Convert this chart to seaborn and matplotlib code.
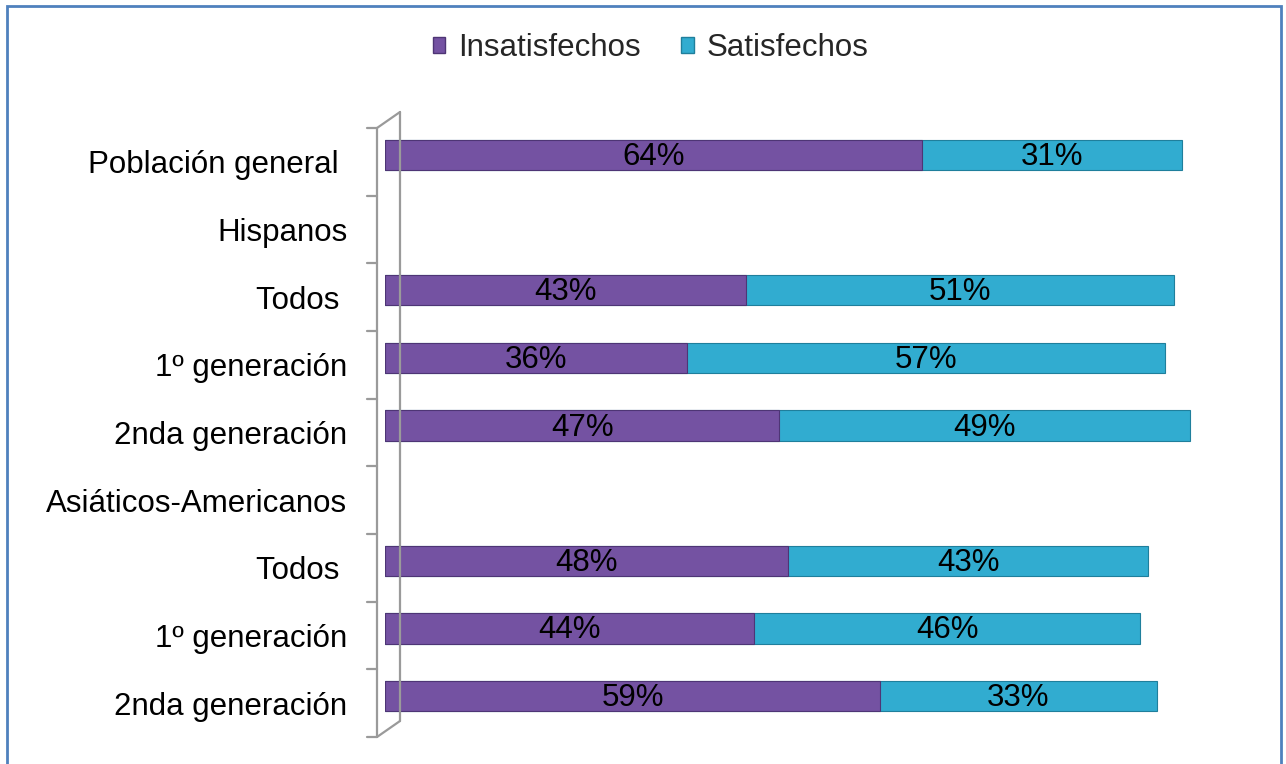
import pandas as pd
import seaborn as sns
import matplotlib.pyplot as plt
from matplotlib.patches import Patch, Rectangle
from matplotlib.lines import Line2D
from matplotlib.transforms import ScaledTranslation

# =================================================================
# 1. Data
# =================================================================
categories = ["Población general ", "Hispanos", "Todos ", "1º generación",
              "2nda generación", "Asiáticos-Americanos", "Todos ",
              "1º generación", "2nda generación"]
row_ids = [f"r{i}" for i in range(len(categories))]
insatisfechos = [64, None, 43, 36, 47, None, 48, 44, 59]
satisfechos = [31, None, 51, 57, 49, None, 43, 46, 33]

PURPLE = "#7452a2"
CYAN = "#31acd0"
FS = 22.5

df = pd.DataFrame({"row": row_ids, "ins": insatisfechos, "sat": satisfechos})
df = df.dropna().copy()
df["total"] = df["ins"] + df["sat"]

# =================================================================
# 2. Plot
# =================================================================
sns.set_theme(style="white")
plt.rcParams["font.family"] = ["Liberation Sans", "DejaVu Sans"]

fig = plt.figure(figsize=(12.86, 7.64), dpi=100)
ax = fig.add_axes([385 / 1286, 27 / 764, 839 / 1286, 609 / 764])

# stacked: total first, then the purple part on top
sns.barplot(data=df, y="row", x="total", order=row_ids, orient="h",
            color=CYAN, saturation=1, width=0.45, edgecolor="#1f7f9c",
            linewidth=0.8, ax=ax)
sns.barplot(data=df, y="row", x="ins", order=row_ids, orient="h",
            color=PURPLE, saturation=1, width=0.45, edgecolor="#4e3575",
            linewidth=0.8, ax=ax)

# bars sit a bit higher than the label slots (3D perspective look)
lift = ax.transData + ScaledTranslation(0, 7 / 100, fig.dpi_scale_trans)
for p in ax.patches:
    p.set_transform(lift)

# percentage labels centred in each segment
txt_lift = ax.transData + ScaledTranslation(0, 5 / 100, fig.dpi_scale_trans)
for _, r in df.iterrows():
    yi = row_ids.index(r["row"])
    ax.text(r["ins"] / 2, yi, f"{int(r['ins'])}%", ha="center", va="center",
            fontsize=FS, color="black", transform=txt_lift)
    ax.text(r["ins"] + r["sat"] / 2, yi, f"{int(r['sat'])}%", ha="center",
            va="center", fontsize=FS, color="black", transform=txt_lift)

ax.set_xlim(0, 100)
ax.set_ylim(len(categories) - 0.5, -0.5)
ax.set_yticks(range(len(categories)))
ax.set_yticklabels(categories)
ax.set_xlabel("")
ax.set_ylabel("")
ax.set_xticks([])
for s in ax.spines.values():
    s.set_visible(False)
ax.tick_params(axis="y", length=0, pad=27, labelsize=FS)
for lab in ax.get_yticklabels():
    lab.set_color("black")

# pseudo 3D wall on the left
wall = dict(color="#9a9a9a", lw=1.6, transform=ax.transAxes, clip_on=False)
x0, x1 = -8 / 839, 15 / 839
dy = 16 / 609
ax.add_line(Line2D([x0, x0], [0, 1], **wall))
ax.add_line(Line2D([x1, x1], [dy, 1 + dy], **wall))
ax.add_line(Line2D([x0, x1], [1, 1 + dy], **wall))
ax.add_line(Line2D([x0, x1], [0, dy], **wall))
for k in range(len(categories) + 1):
    yk = k / len(categories)
    ax.add_line(Line2D([x0 - 10 / 839, x0], [yk, yk], **wall))

# legend on top
handles = [Patch(facecolor=PURPLE, edgecolor="#4e3575", label="Insatisfechos"),
           Patch(facecolor=CYAN, edgecolor="#1f7f9c", label="Satisfechos")]
fig.legend(handles=handles, loc="center", bbox_to_anchor=(0.506, 0.937),
           ncol=2, frameon=False, fontsize=FS, handlelength=0.4,
           handleheight=0.4, handletextpad=0.42, columnspacing=1.3)

# outer chart frame
fig.add_artist(Rectangle((7 / 1286, -0.01), 1274 / 1286, 1 - 6 / 764 + 0.01,
                         transform=fig.transFigure, fill=False,
                         edgecolor="#4f81bd", lw=2))

plt.savefig("out.png", dpi=100)
